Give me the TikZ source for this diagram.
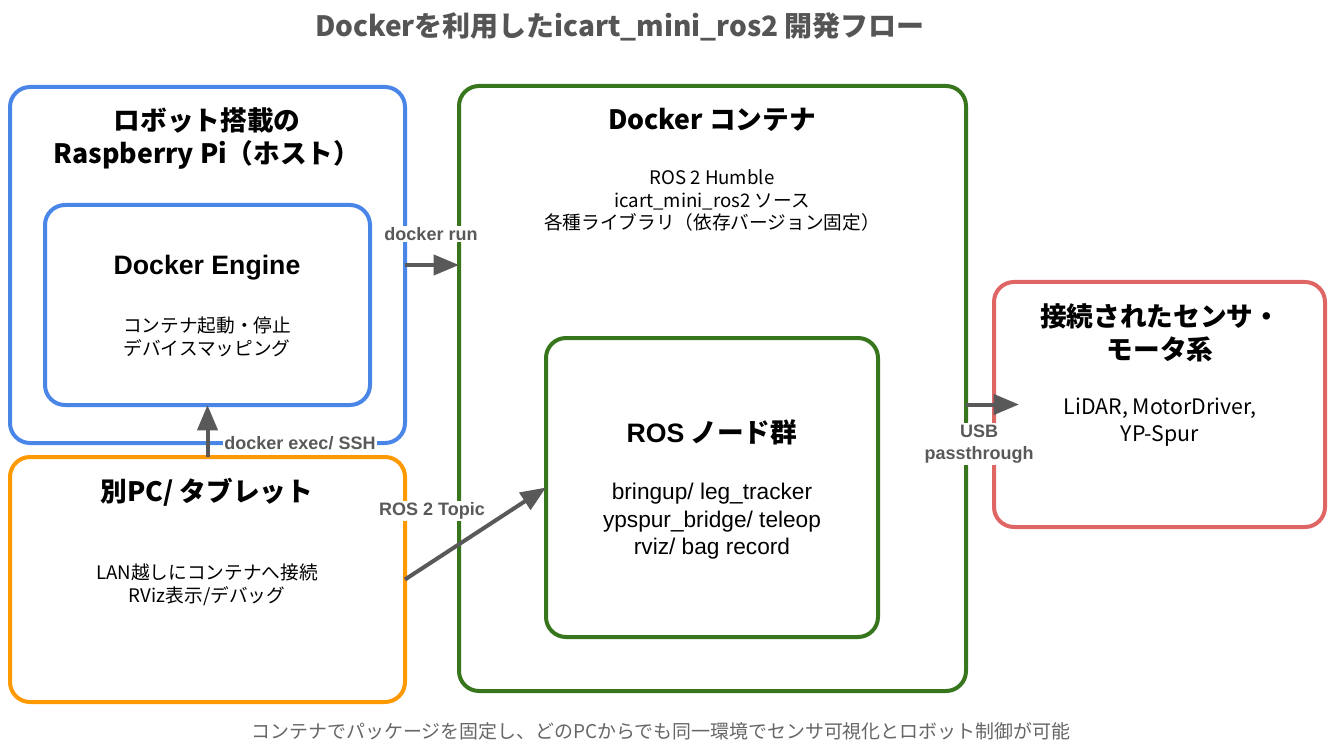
\documentclass[tikz,border=0pt]{standalone}
\usepackage{fontspec}
\setmainfont{Noto Sans CJK JP}
\newfontfamily\arialf{Liberation Sans}
\usetikzlibrary{arrows.meta}
\definecolor{cblue}{HTML}{4A86E8}
\definecolor{corange}{HTML}{FF9900}
\definecolor{cgreen}{HTML}{38761D}
\definecolor{cred}{HTML}{E06666}
\definecolor{carrow}{HTML}{595959}
\definecolor{ctitle}{HTML}{555555}
\definecolor{cfoot}{HTML}{666666}
\begin{document}
\begin{tikzpicture}[x=0.75pt,y=-0.75pt,
  box/.style={draw, line width=3pt, rounded corners=15pt, inner sep=0pt, outer sep=0pt, fill=white},
  boxtitle/.style={font=\fontsize{20pt}{24.75pt}\selectfont\bfseries, align=center, inner sep=0pt},
  body/.style={font=\fontsize{14pt}{17.25pt}\selectfont, align=center, inner sep=0pt},
  arialbody/.style={font=\arialf\fontsize{17pt}{20.6pt}\selectfont, align=center, inner sep=0pt},
  conn/.style={draw=carrow, line width=3pt, -{Triangle[length=19pt,width=15pt]}},
  lbl/.style={font=\arialf\fontsize{13.5pt}{16.5pt}\selectfont\bfseries, text=carrow, fill=white, align=center, inner sep=1pt}
]
\useasboundingbox[fill=white] (0,0) rectangle (1335,752);

% title
\node[font=\fontsize{21pt}{25pt}\selectfont\bfseries, text=ctitle, inner sep=0pt] (title) at (620,27) {Dockerを利用したicart\_mini\_ros2 開発フロー};

% boxes
\node[box, draw=cblue, minimum width={395*0.75pt}, minimum height={356*0.75pt}] (host) at (207.5,265) {};
\node[box, draw=cblue, minimum width={325*0.75pt}, minimum height={200*0.75pt}] (engine) at (207.5,305) {};
\node[box, draw=corange, minimum width={395*0.75pt}, minimum height={245*0.75pt}] (pc) at (207.5,579.5) {};
\node[box, draw=cgreen, minimum width={507*0.75pt}, minimum height={605*0.75pt}] (container) at (712.5,388.5) {};
\node[box, draw=cgreen, minimum width={332*0.75pt}, minimum height={299*0.75pt}] (rosnodes) at (712,487.5) {};
\node[box, draw=cred, minimum width={331*0.75pt}, minimum height={245*0.75pt}] (sensors) at (1159.5,404.5) {};

% texts
\node[boxtitle] (hostT) at (207,138.5) {ロボット搭載の\\Raspberry Pi（ホスト）};
\node[boxtitle, font=\arialf\fontsize{20pt}{24pt}\selectfont\bfseries] (engineT) at (207,268) {Docker Engine};
\node[body] (engineB) at (207,336.5) {コンテナ起動・停止\\デバイスマッピング};
\node[boxtitle] (pcT) at (207,492) {別PC/ タブレット};
\node[body] (pcB) at (207,584.5) {LAN越しにコンテナへ接続\\RViz表示/デバッグ};
\node[boxtitle] (containerT) at (712,120) {Docker コンテナ};
\node[body, font=\fontsize{14pt}{17pt}\selectfont] (containerB) at (712,200.5) {ROS 2 Humble\\icart\_mini\_ros2 ソース\\各種ライブラリ（依存バージョン固定）};
\node[boxtitle] (rosT) at (712,432) {{\arialf ROS} ノード群};
\node[arialbody] (rosB) at (712,521.5) {bringup/ leg\_tracker\\ypspur\_bridge/ teleop\\rviz/ bag record};
\node[boxtitle] (sensT) at (1160,332.5) {接続されたセンサ・\\モータ系};
\node[body, font=\fontsize{16pt}{20.25pt}\selectfont] (sensB) at (1160,422.5) {LiDAR, MotorDriver,\\YP-Spur};

% connectors
\draw[conn] (host.east) -- (host.east -| container.west);
\draw[conn] (pc.north) -- (engine.south);
\draw[conn] (pc.east) -- (rosnodes.west);
\coordinate (usbend) at ([xshift=25*0.75pt]sensors.west);
\draw[conn] (sensors.west -| container.east) -- (usbend);

% labels
\node[lbl] (l1) at (431,234) {docker run};
\node[lbl] (l2) at (300,443) {docker exec/ SSH};
\node[lbl] (l3) at (432,511) {ROS 2 Topic};
\node[lbl, font=\arialf\fontsize{13.5pt}{16.5pt}\selectfont\bfseries] (l4) at (979,444) {USB\\passthrough};

% footer
\node[font=\fontsize{14.2pt}{17pt}\selectfont, text=cfoot, inner sep=0pt] (foot) at (661,731) {コンテナでパッケージを固定し、どのPCからでも同一環境でセンサ可視化とロボット制御が可能};
\end{tikzpicture}
\end{document}
